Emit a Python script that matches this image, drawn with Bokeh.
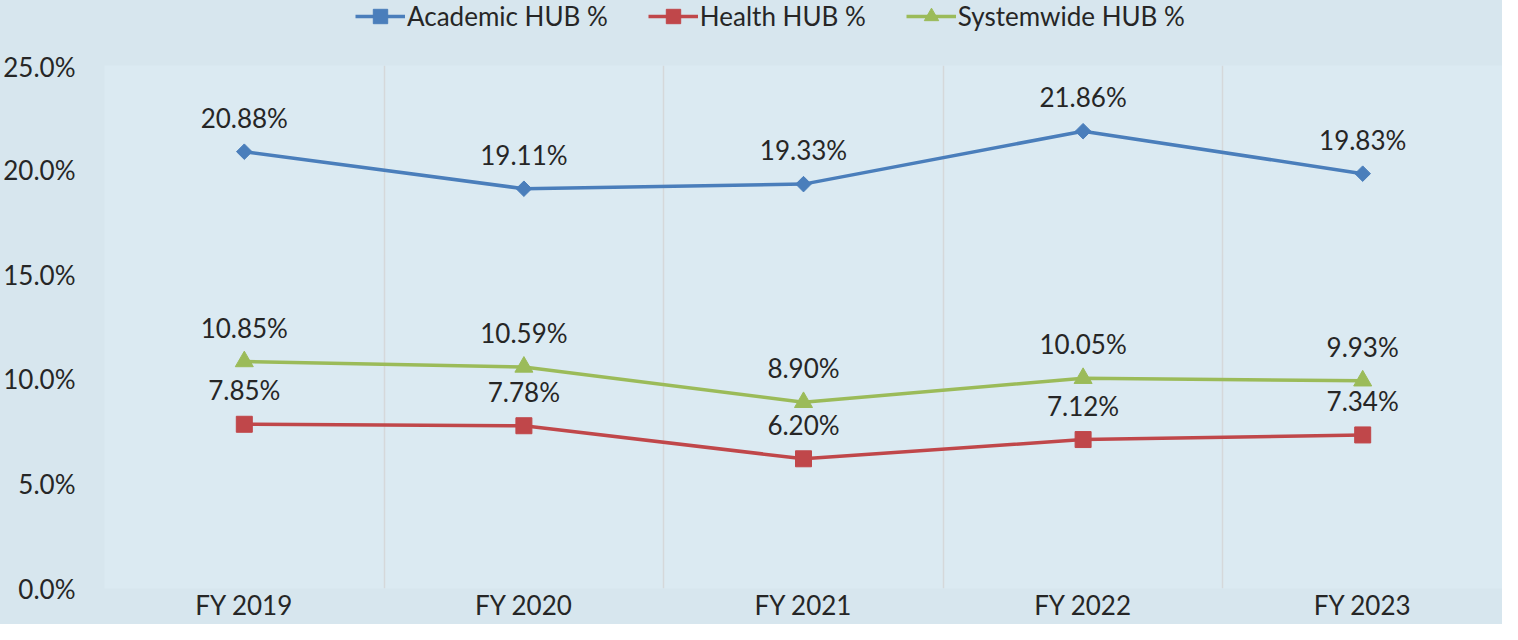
import numpy as np
from bokeh.plotting import figure
from bokeh.layouts import column
from bokeh.models import (ColumnDataSource, FixedTicker, PrintfTickFormatter, Legend,
                          LegendItem, LabelSet, Range1d)
from bokeh.core.properties import value
from bokeh.embed import file_html
from bokeh.resources import INLINE

categories = ["FY 2019", "FY 2020", "FY 2021", "FY 2022", "FY 2023"]
academic = [20.88, 19.11, 19.33, 21.86, 19.83]
health = [7.85, 7.78, 6.20, 7.12, 7.34]
systemwide = [10.85, 10.59, 8.90, 10.05, 9.93]
y_ticks = [0, 5, 10, 15, 20, 25]

FONT = "Lato"
FS = "26px"
TXT = "#262626"
BORDER = "#d7e6ee"

xs = list(range(len(categories)))

p = figure(width=1502, height=574, output_backend="svg", toolbar_location=None,
           x_range=(-0.5, len(categories) - 0.5), y_range=(0, 25),
           min_border_left=97, min_border_right=0, min_border_top=15, min_border_bottom=36,
           styles={"background-color": BORDER})
p.background_fill_color = "#dbeaf2"
p.border_fill_color = BORDER
p.outline_line_color = None

# axes
p.xaxis.ticker = FixedTicker(ticks=xs)
p.xaxis.major_label_overrides = {i: c for i, c in enumerate(categories)}
p.yaxis.ticker = FixedTicker(ticks=y_ticks)
p.yaxis.formatter = PrintfTickFormatter(format="%.1f%%")
for ax in (p.xaxis, p.yaxis):
    ax.axis_line_color = None
    ax.major_tick_line_color = None
    ax.minor_tick_line_color = None
    ax.major_tick_out = 0
    ax.major_tick_in = 0
    ax.minor_tick_out = 0
    ax.major_label_text_font = FONT
    ax.major_label_text_font_size = FS
    ax.major_label_text_color = TXT
p.yaxis.major_label_standoff = 29
p.xaxis.major_label_standoff = 0

# grid: vertical lines at category boundaries, horizontal only at zero
p.xgrid.ticker = FixedTicker(ticks=[i - 0.5 for i in range(len(categories))])
p.xgrid.grid_line_color = "#d5d8da"
p.xgrid.grid_line_width = 1.5
p.ygrid.ticker = FixedTicker(ticks=[0])
p.ygrid.grid_line_color = "#d5d8da"
p.ygrid.grid_line_width = 1.5

series = [
    ("Academic HUB %", academic, "#4a7ebb", "square", 11, np.pi / 4),
    ("Health HUB %", health, "#c0474a", "square", 16, 0),
    ("Systemwide HUB %", systemwide, "#9bbb59", "triangle", 18, 0),
]

# legend strip (separate small figure above the chart; its view range shows no data)
lg = figure(width=1502, height=50, output_backend="svg", toolbar_location=None,
            x_range=Range1d(0, 1), y_range=Range1d(-2, -1),
            x_axis_location=None, y_axis_location=None,
            min_border_left=0, min_border_right=0, min_border_top=0, min_border_bottom=0,
            styles={"background-color": BORDER})
lg.background_fill_color = BORDER
lg.border_fill_color = BORDER
lg.outline_line_color = None
lg.xgrid.visible = False
lg.ygrid.visible = False

items = []
for name, vals, col, marker, size, ang in series:
    src = ColumnDataSource(dict(x=xs, y=vals, lab=["%.2f%%" % v for v in vals]))
    p.line("x", "y", source=src, line_color=col, line_width=3.5)
    p.scatter("x", "y", source=src, marker=marker, size=size, angle=ang,
              fill_color=col, line_color=col)
    labels = LabelSet(x="x", y="y", text="lab", source=src, y_offset=34,
                      text_align="center", text_baseline="middle",
                      text_font=value(FONT), text_font_size=value(FS),
                      text_color=TXT)
    p.add_layout(labels)
    ln = lg.line("x", "y", source=src, line_color=col, line_width=3.5)
    sc = lg.scatter("x", "y", source=src, marker=marker, size=size, angle=ang,
                    fill_color=col, line_color=col)
    items.append(LegendItem(label=name, renderers=[ln, sc]))

legend = Legend(items=items, orientation="horizontal", location=(251, 16),
                label_text_font=FONT, label_text_font_size=FS, label_text_color=TXT,
                glyph_width=50, glyph_height=36, spacing=40, padding=0, margin=0,
                label_standoff=2, background_fill_alpha=0, border_line_color=None)
lg.add_layout(legend)

layout = column(lg, p, spacing=0, styles={"background-color": BORDER})
open("out.html", "w").write(file_html(layout, INLINE))
